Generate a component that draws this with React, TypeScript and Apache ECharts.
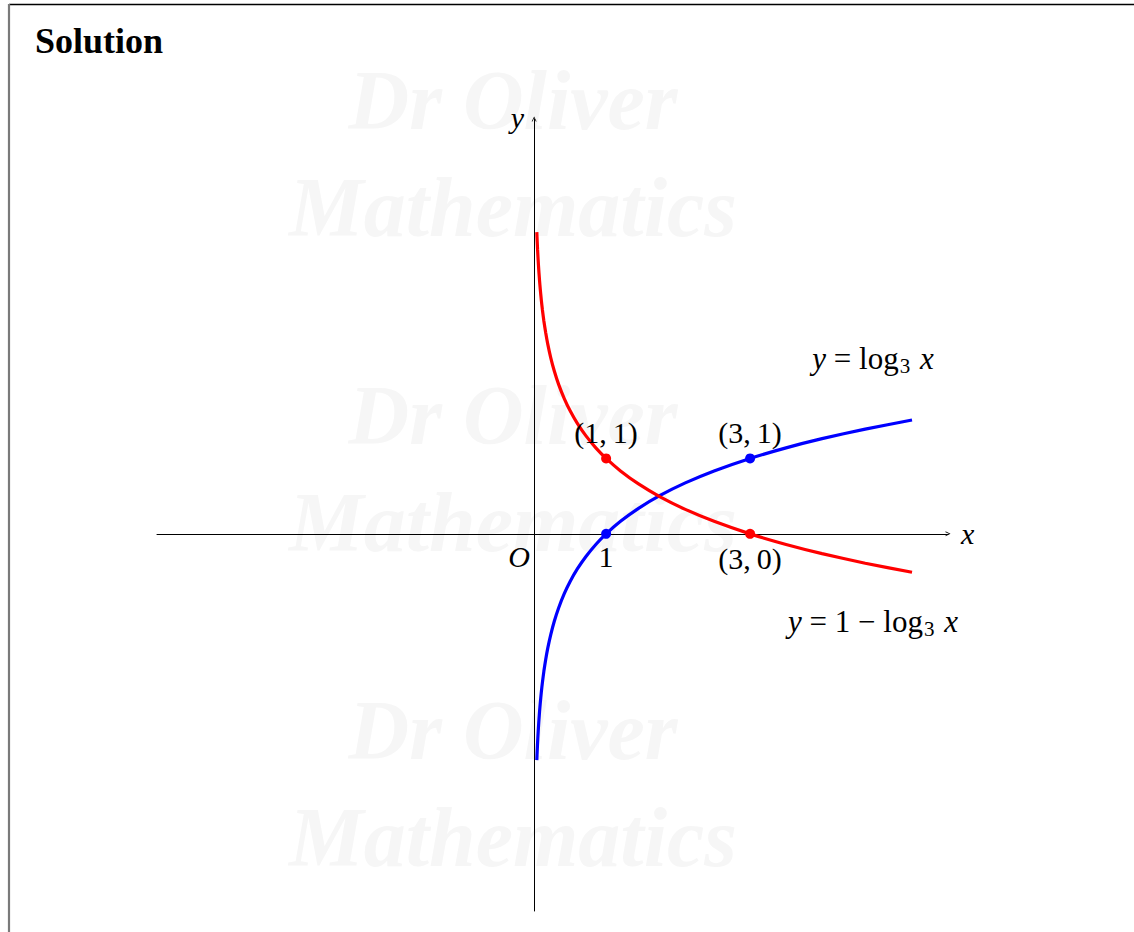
import { useEffect, useRef } from 'react';
import * as echarts from 'echarts';

// Axis extents (in x / y units)
const X_RANGE = [-5.24, 5.75];
const Y_RANGE = [-5, 5.5];

// Sample abscissae for both curves, from x = 1/27 (log3 x = -3) to x = 5.25
const curveXs = [
  1 / 27, 0.04, 0.044, 0.048, 0.053, 0.06, 0.067, 0.075, 0.085, 0.1, 0.115, 0.135,
  0.16, 0.19, 0.23, 0.28, 0.34, 0.42, 0.5, 0.6, 0.72, 0.86, 1, 1.2, 1.45, 1.75,
  2.1, 2.5, 3, 3.5, 4, 4.6, 5.25,
];

// Marked points on y = log3 x
const bluePoints = [
  [1, 0],
  [3, 1],
];
const bluePointLabels = ['1', '(3,\u20091)'];

// Marked points on y = 1 - log3 x
const redPoints = [
  [1, 1],
  [3, 0],
];
const redPointLabels = ['(1,\u20091)', '(3,\u20090)'];

const watermarkLines = ['Dr Oliver', 'Mathematics'];

const MATH_FONT = "'Liberation Serif', 'DejaVu Serif', serif";
const BLUE = '#0000ff';
const RED = '#ff0000';

const log3 = (x: number) => Math.log(x) / Math.log(3);

function pointSeries(points: number[][], labels: string[], color: string) {
  return {
    type: 'scatter',
    symbol: 'circle',
    symbolSize: 10,
    z: 5,
    itemStyle: { color, opacity: 1 },
    data: points.map((p, i) => ({
      value: p,
      label: {
        show: true,
        formatter: labels[i],
        position: p[1] === 0 ? 'bottom' : 'top',
        distance: p[1] === 0 ? (p[0] === 1 ? 3 : 5) : 6,
        fontFamily: MATH_FONT,
        fontSize: 30,
        color: '#000',
        opacity: 1,
      },
    })),
  };
}

function equationText(parts: string, x: number, y: number) {
  return {
    type: 'text',
    x,
    y,
    z: 10,
    style: {
      text: parts,
      align: 'center',
      verticalAlign: 'middle',
      rich: {
        i: { fontFamily: MATH_FONT, fontStyle: 'italic', fontSize: 31, lineHeight: 32, fill: '#000' },
        n: { fontFamily: MATH_FONT, fontSize: 31, lineHeight: 32, fill: '#000' },
        s: { fontFamily: MATH_FONT, fontSize: 21, lineHeight: 16, fill: '#000', padding: [16, 2, 0, 1] },
      },
    },
  };
}

export default function App() {
  const ref = useRef<HTMLDivElement>(null);

  useEffect(() => {
    if (!ref.current) return;
    const chart = echarts.init(ref.current, undefined, { renderer: 'svg' });

    const blueData = curveXs.map((x) => [x, log3(x)]);
    const redData = curveXs.map((x) => [x, 1 - log3(x)]);

    const watermark: any[] = [];
    [100, 415, 730].forEach((top) => {
      watermarkLines.forEach((line, i) => {
        watermark.push({
          type: 'text',
          x: 513,
          y: top + i * 107,
          z: -10,
          silent: true,
          style: {
            text: line,
            align: 'center',
            verticalAlign: 'middle',
            fontFamily: MATH_FONT,
            fontStyle: 'italic',
            fontWeight: 'bold',
            fontSize: 84,
            fill: '#f6f6f6',
          },
        });
      });
    });

    const chevron = 'path://M0,10 L5,0 L10,10 L8.4,10 L5,3.2 L1.6,10 Z';

    chart.setOption({
      animation: false,
      backgroundColor: '#ffffff',
      grid: { left: 157, right: 186, top: 119, bottom: 21, containLabel: false },
      xAxis: {
        type: 'value',
        min: X_RANGE[0],
        max: X_RANGE[1],
        name: 'x',
        nameLocation: 'end',
        nameGap: 13,
        nameTextStyle: { fontFamily: MATH_FONT, fontStyle: 'italic', fontSize: 30, color: '#000' },
        axisLine: {
          onZero: true,
          lineStyle: { color: '#000', width: 1 },
          symbol: ['none', chevron],
          symbolSize: [9, 5],
        },
        axisTick: { show: false },
        axisLabel: { show: false },
        splitLine: { show: false },
      },
      yAxis: {
        type: 'value',
        min: Y_RANGE[0],
        max: Y_RANGE[1],
        name: 'y',
        nameLocation: 'end',
        nameGap: 2,
        nameTextStyle: {
          fontFamily: MATH_FONT,
          fontStyle: 'italic',
          fontSize: 30,
          color: '#000',
          align: 'right',
          verticalAlign: 'middle',
          padding: [0, 10, 0, 0],
        },
        axisLine: {
          onZero: true,
          lineStyle: { color: '#000', width: 1 },
          symbol: ['none', chevron],
          symbolSize: [9, 5],
        },
        axisTick: { show: false },
        axisLabel: { show: false },
        splitLine: { show: false },
      },
      series: [
        {
          type: 'line',
          data: blueData,
          showSymbol: false,
          smooth: 0.2,
          z: 3,
          lineStyle: { color: BLUE, width: 3.2 },
          itemStyle: { color: BLUE },
        },
        {
          type: 'line',
          data: redData,
          showSymbol: false,
          smooth: 0.2,
          z: 3,
          lineStyle: { color: RED, width: 3.2 },
          itemStyle: { color: RED },
        },
        pointSeries(bluePoints, bluePointLabels, BLUE),
        pointSeries(redPoints, redPointLabels, RED),
      ],
      graphic: [
        ...watermark,
        // page frame
        { type: 'line', z: 20, shape: { x1: 9, y1: 4.5, x2: 1134, y2: 4.5 }, style: { stroke: '#000', lineWidth: 1.3 } },
        { type: 'line', z: 20, shape: { x1: 9, y1: 4, x2: 9, y2: 932 }, style: { stroke: '#7a7a7a', lineWidth: 2.2 } },
        {
          type: 'text',
          x: 35,
          y: 41,
          z: 20,
          style: {
            text: 'Solution',
            align: 'left',
            verticalAlign: 'middle',
            fontFamily: MATH_FONT,
            fontWeight: 'bold',
            fontSize: 36,
            fill: '#000',
          },
        },
        {
          type: 'text',
          x: 519,
          y: 556,
          z: 10,
          style: {
            text: 'O',
            align: 'center',
            verticalAlign: 'middle',
            fontFamily: MATH_FONT,
            fontStyle: 'italic',
            fontSize: 30,
            fill: '#000',
          },
        },
        equationText('{i|y}{n| = log}{s|3}{i| x}', 873, 358),
        equationText('{i|y}{n| = 1 \u2212 log}{s|3}{i| x}', 873, 621),
      ],
    });

    return () => chart.dispose();
  }, []);

  return (
    <div
      ref={ref}
      style={{ position: 'absolute', left: 0, top: 0, width: 1134, height: 932, background: '#fff' }}
    />
  );
}
